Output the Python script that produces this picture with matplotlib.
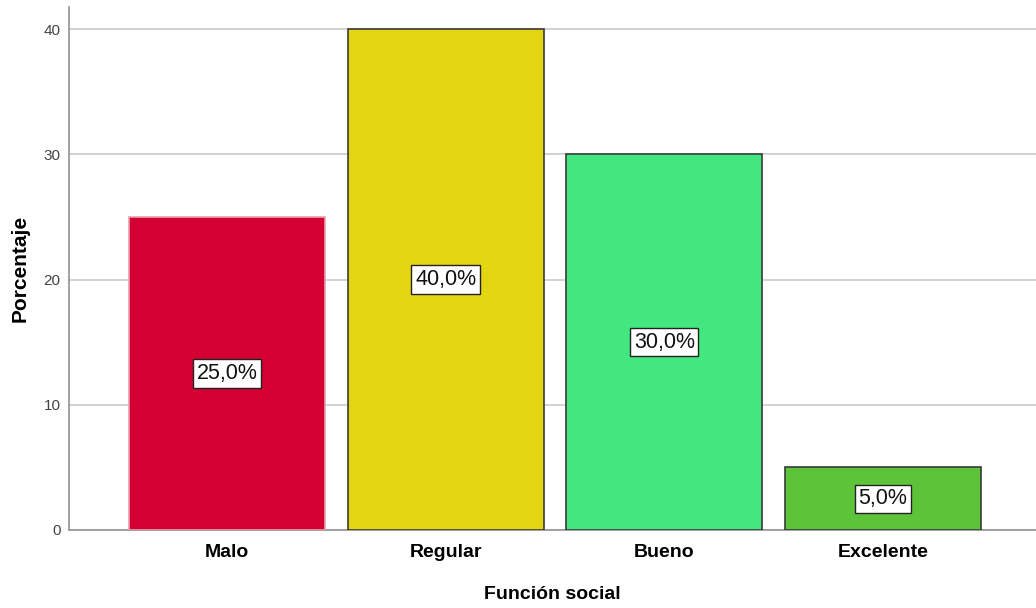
import matplotlib
matplotlib.use("Agg")
import matplotlib.pyplot as plt

categories = ["Malo", "Regular", "Bueno", "Excelente"]
percentages = [25.0, 40.0, 30.0, 5.0]
bar_colors = ["#D50032", "#E3D50F", "#42E87F", "#5DC43A"]
edge_colors = ["#E8A0B0", "#3A3A3A", "#3A3A3A", "#3A3A3A"]
y_ticks = [0, 10, 20, 30, 40]

plt.rcParams["font.family"] = ["Liberation Sans", "DejaVu Sans"]

fig = plt.figure(figsize=(10.36, 6.08), dpi=100)
ax = fig.add_axes([0.0666, 0.1283, 0.9334, 0.8602])

x = range(len(categories))
bars = ax.bar(x, percentages, width=0.897, color=bar_colors,
              edgecolor=edge_colors, linewidth=1.2, zorder=3)

for rect, val in zip(bars, percentages):
    ax.text(rect.get_x() + rect.get_width() / 2, val / 2,
            f"{val:.1f}".replace(".", ",") + "%",
            ha="center", va="center", fontsize=15.5, color="#111111", zorder=4,
            bbox=dict(boxstyle="square,pad=0.17", facecolor="white",
                      edgecolor="#222222", linewidth=1.0))

ax.set_xlim(-0.723, 3.70)
ax.set_ylim(0, 41.76)
ax.set_xticks(list(x))
ax.set_xticklabels(categories, fontsize=14, fontweight="bold")
ax.set_yticks(y_ticks)
ax.set_yticklabels([str(t) for t in y_ticks], fontsize=11, color="#444444")
ax.tick_params(axis="x", length=0, pad=10)
ax.tick_params(axis="y", length=0, pad=6)

ax.yaxis.grid(True, color="#CFCFCF", linewidth=1.3, zorder=0)
ax.set_axisbelow(True)
for side in ["top", "right"]:
    ax.spines[side].set_visible(False)
ax.spines["left"].set_color("#9A9A9A")
ax.spines["bottom"].set_color("#9A9A9A")
ax.spines["left"].set_linewidth(1.3)
ax.spines["bottom"].set_linewidth(1.3)

ax.set_xlabel("Función social", fontsize=14, fontweight="bold", labelpad=18)
ax.set_ylabel("Porcentaje", fontsize=15, fontweight="bold")
ax.yaxis.set_label_coords(-0.041, 0.5)

fig.savefig("out.png", dpi=100)
